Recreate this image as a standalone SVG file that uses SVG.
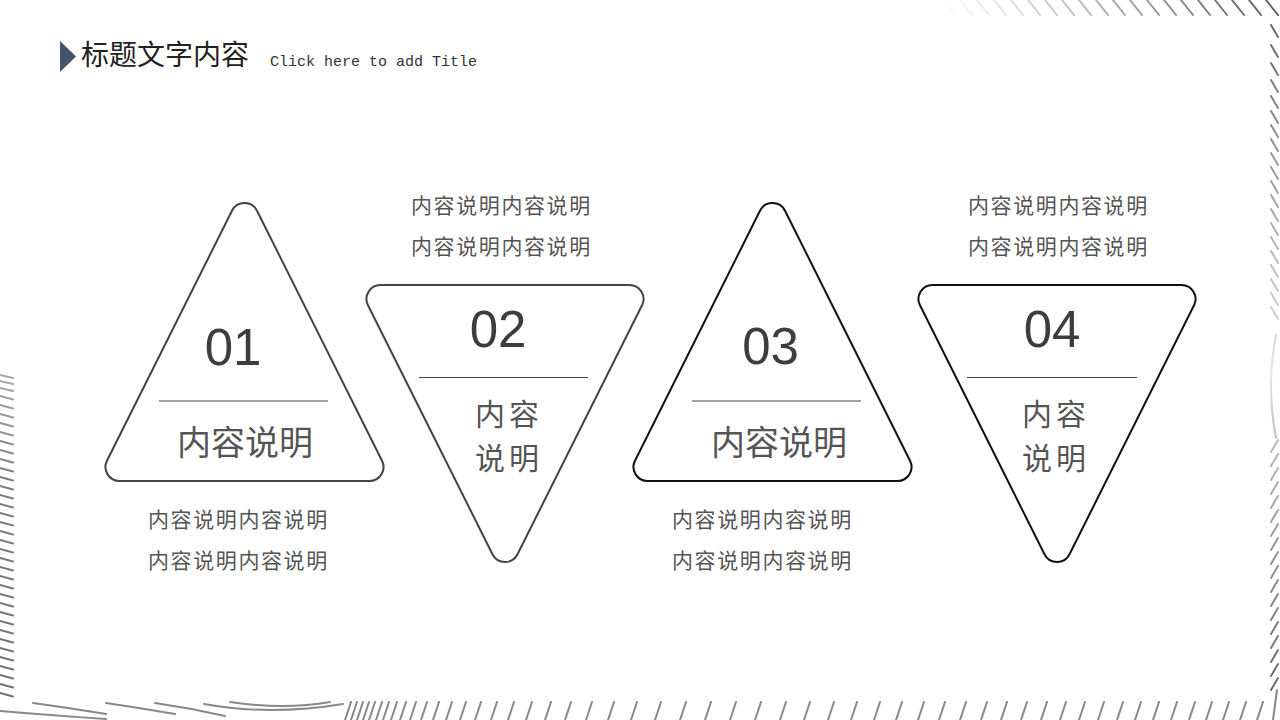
<svg xmlns="http://www.w3.org/2000/svg" width="1280" height="720" viewBox="0 0 1280 720">
  <defs>
    <linearGradient id="gTop" gradientUnits="userSpaceOnUse" x1="940" y1="0" x2="1280" y2="0">
      <stop offset="0" stop-color="#ffffff"/>
      <stop offset="1" stop-color="#5a5a5a"/>
    </linearGradient>
    <linearGradient id="gRight" gradientUnits="userSpaceOnUse" x1="0" y1="20" x2="0" y2="700">
      <stop offset="0" stop-color="#666"/>
      <stop offset="0.42" stop-color="#ccc"/>
      <stop offset="0.52" stop-color="#e6e6e6"/>
      <stop offset="0.62" stop-color="#bbb"/>
      <stop offset="1" stop-color="#666"/>
    </linearGradient>
    <linearGradient id="gLeft" gradientUnits="userSpaceOnUse" x1="0" y1="372" x2="0" y2="700">
      <stop offset="0" stop-color="#aaa"/>
      <stop offset="0.3" stop-color="#808080"/>
      <stop offset="1" stop-color="#707070"/>
    </linearGradient>
  </defs>
  <style>
    .deco { fill: none; stroke-width: 2; stroke-linecap: round; }
    .tri1 { fill: none; stroke: #444; stroke-width: 2; }
    .tri2 { fill: none; stroke: #111; stroke-width: 2; }
    .div { stroke: #444; stroke-width: 1.2; }
    .num { font-family: "Liberation Sans", Arial, sans-serif; font-size: 51px; fill: #3d3d3d; text-anchor: middle; }
    .lab { font-family: "Noto Sans CJK SC", "Liberation Sans", sans-serif; font-size: 34px; fill: #555; text-anchor: middle; }
    .lab2 { font-family: "Noto Sans CJK SC", "Liberation Sans", sans-serif; font-size: 30px; fill: #555; text-anchor: middle; letter-spacing: 4px; }
    .desc { font-family: "Noto Sans CJK SC", "Liberation Sans", sans-serif; font-size: 21px; fill: #555; letter-spacing: 1.6px; }
  </style>
  <rect width="1280" height="720" fill="#ffffff"/>

  <!-- decorative border -->
  <g id="decoration">
    <path class="deco" stroke="url(#gTop)" stroke-width="2" d="M943,0 L955,15 M960,0 L972,15 M977,0 L989,15 M994,0 L1006,15 M1011,0 L1023,15 M1028,0 L1040,15 M1045,0 L1057,15 M1062,0 L1074,15 M1079,0 L1091,15 M1096,0 L1108,15 M1113,0 L1125,15 M1130,0 L1142,15 M1147,0 L1159,15 M1164,0 L1176,15 M1181,0 L1193,15 M1198,0 L1210,15 M1215,0 L1227,15 M1232,0 L1244,15 M1249,0 L1261,15 M1266,0 L1278,15"/>
    <path class="deco" stroke="url(#gRight)" d="M1271,25 L1278,37 M1271,45 L1278,57 M1271,63 L1278,75 M1271,80 L1278,92 M1271,96 L1278,108 M1271,111 L1278,123 M1271,125 L1278,137 M1271,139 L1278,151 M1271,153 L1278,165 M1271,167 L1278,179 M1271,181 L1278,193 M1271,195 L1278,207 M1271,209 L1278,221 M1271,223 L1278,235 M1271,237 L1278,249 M1271,251 L1278,263 M1271,265 L1278,277 M1271,279 L1278,291 M1271,293 L1278,305 M1271,307 L1278,319 M1276,335 Q1266,385 1276,438 M1278,440 L1271,452 M1278,454 L1271,466 M1278,468 L1271,480 M1278,482 L1271,494 M1278,496 L1271,508 M1278,510 L1271,522 M1278,524 L1271,536 M1278,538 L1271,550 M1278,552 L1271,564 M1278,566 L1271,578 M1278,580 L1271,592 M1278,594 L1271,606 M1278,608 L1271,620 M1278,622 L1271,634 M1278,636 L1271,648 M1278,650 L1271,662 M1278,664 L1271,676 M1278,678 L1271,690"/>
    <path class="deco" stroke="url(#gLeft)" d="M0,375 L13,378 M0,381 L13,384 M0,388 L13,391 M0,396 L13,399.5 M0,405 L13,408.5 M0,414 L13,417.5 M0,423 L13,426.5 M0,432 L13,435.5 M0,441 L13,444.5 M0,450 L13,453.5 M0,459 L13,462.5 M0,468 L13,471.5 M0,477 L13,480.5 M0,486 L13,489.5 M0,495 L13,498.5 M0,504 L13,507.5 M0,513 L13,516.5 M0,522 L13,525.5 M0,531 L13,534.5 M0,540 L13,543.5 M0,549 L13,552.5 M0,558 L13,561.5 M0,567 L13,570.5 M0,576 L13,579.5 M0,585 L13,588.5 M0,594 L13,597.5 M0,603 L13,606.5 M0,612 L13,615.5 M0,621 L13,624.5 M0,630 L13,633.5 M0,639 L13,642.5 M0,648 L13,651.5 M0,657 L13,660.5 M0,666 L13,669.5 M0,675 L13,678.5 M0,684 L13,687.5 M0,693 L13,696.5"/>
    <path class="deco" stroke="#888" d="M0,711 Q60,716 106,719 M33,703 Q70,708 106,714 M106,703 Q140,708 175,714 M155,703 Q190,708 225,716 M204,704 Q270,716 343,704 M230,702 Q285,710 330,702"/>
    <path class="deco" stroke="#888" stroke-width="1.6" d="M345,720 L351,702 M351,720 L357,702 M357,720 L363,702 M363,720 L369,702 M369,720 L375,702 M376,720 L382,702 M383,720 L389,702 M391,720 L397,702 M400,720 L406,702 M410,720 L416,702 M421,720 L427,702 M433,720 L439,702 M446,720 L452,702 M460,720 L466,702 M475,720 L481,702 M491,720 L497,702 M508,720 L514,702 M526,720 L532,702 M545,720 L551,702 M565,720 L571,702 M586,720 L592,702 M608,720 L614,702 M631,720 L637,702 M655,720 L661,702 M680,720 L686,702 M705,720 L711,702 M730,720 L736,702 M755,720 L761,702 M780,720 L786,702 M804,720 L810,702 M828,720 L834,702 M851,720 L857,702 M874,720 L880,702 M896,720 L902,702 M918,720 L924,702 M939,720 L945,702 M960,720 L966,702 M981,720 L987,702 M1001,720 L1007,702 M1021,720 L1027,702 M1041,720 L1047,702 M1060,720 L1066,702 M1079,720 L1085,702 M1098,720 L1104,702 M1117,720 L1123,702 M1135,720 L1141,702 M1153,720 L1159,702 M1171,720 L1177,702 M1189,720 L1195,702 M1206,720 L1212,702 M1223,720 L1229,702 M1240,720 L1246,702 M1257,720 L1263,702 M1273,720 L1277,690"/>
  </g>

  <!-- title -->
  <g id="title">
    <polygon points="60,41 76,56.5 60,72" fill="#44546a"/>
    <text x="81" y="65" font-family="Noto Sans CJK SC, Liberation Sans, sans-serif" font-size="28" fill="#222">标题文字内容</text>
    <text x="270" y="66" font-family="Liberation Mono, Courier New, monospace" font-size="15" fill="#333">Click here to add Title</text>
  </g>

  <g id="connectors"></g>

  <g id="node1">
    <path class="tri1" d="M232,210.74 A14 14 0 0 1 257,210.74 L382.02,460.74 A14 14 0 0 1 369.5,481 L119.5,481 A14 14 0 0 1 106.98,460.74 Z"/>
    <text class="num" x="233" y="365">01</text>
    <line class="div" x1="159" y1="401" x2="328" y2="401"/>
    <text class="lab" x="245" y="455">内容说明</text>
    <text class="desc" x="148" y="527">内容说明内容说明</text>
    <text class="desc" x="148" y="568">内容说明内容说明</text>
  </g>

  <g id="node2">
    <path class="tri1" d="M380.5,285 L629.5,285 A14 14 0 0 1 642.02,305.26 L517.52,554.26 A14 14 0 0 1 492.48,554.26 L367.98,305.26 A14 14 0 0 1 380.5,285 Z"/>
    <text class="num" x="498" y="347">02</text>
    <line class="div" x1="419" y1="377.5" x2="588" y2="377.5"/>
    <text class="lab2" x="509" y="425">内容</text>
    <text class="lab2" x="509" y="469">说明</text>
    <text class="desc" x="411" y="213">内容说明内容说明</text>
    <text class="desc" x="411" y="254">内容说明内容说明</text>
  </g>

  <g id="node3">
    <path class="tri2" d="M759.98,210.74 A14 14 0 0 1 785.02,210.74 L910.02,460.74 A14 14 0 0 1 897.5,481 L647.5,481 A14 14 0 0 1 634.98,460.74 Z"/>
    <text class="num" x="770.5" y="364">03</text>
    <line class="div" x1="692" y1="401" x2="861" y2="401"/>
    <text class="lab" x="779" y="455">内容说明</text>
    <text class="desc" x="672" y="527">内容说明内容说明</text>
    <text class="desc" x="672" y="568">内容说明内容说明</text>
  </g>

  <g id="node4">
    <path class="tri2" d="M932.5,285 L1181.5,285 A14 14 0 0 1 1194.02,305.26 L1069.52,554.26 A14 14 0 0 1 1044.48,554.26 L919.98,305.26 A14 14 0 0 1 932.5,285 Z"/>
    <text class="num" x="1052" y="347">04</text>
    <line class="div" x1="967" y1="377.5" x2="1137" y2="377.5"/>
    <text class="lab2" x="1056" y="425">内容</text>
    <text class="lab2" x="1056" y="469">说明</text>
    <text class="desc" x="968" y="213">内容说明内容说明</text>
    <text class="desc" x="968" y="254">内容说明内容说明</text>
  </g>
</svg>
